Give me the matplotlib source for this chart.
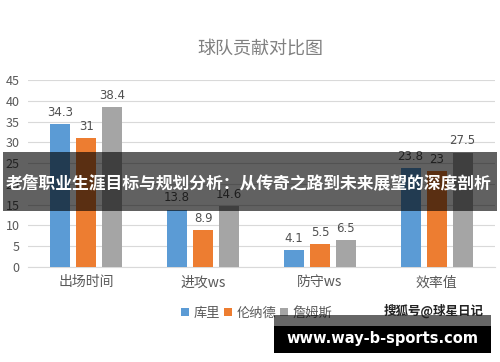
import matplotlib.pyplot as plt
import numpy as np
from matplotlib.patches import Rectangle

plt.rcParams['font.family'] = ['Noto Sans CJK SC', 'DejaVu Sans']

categories = ['出场时间', '进攻ws', '防守ws', '效率值']
players = ['库里', '伦纳德', '詹姆斯']
curry = [34.3, 13.8, 4.1, 23.8]
leonard = [31, 8.9, 5.5, 23]
james = [38.4, 14.6, 6.5, 27.5]
colors = ['#5B9BD5', '#ED7D31', '#A5A5A5']

fig = plt.figure(figsize=(5, 3.62), dpi=100)
ax = fig.add_axes([0.056, 0.2624, 0.934, 0.5166])

x = np.arange(len(categories))
step = 0.223
width = 0.171
for i, (vals, name) in enumerate(zip([curry, leonard, james], players)):
    pos = x + (i - 1) * step
    bars = ax.bar(pos, vals, width, color=colors[i], label=name, zorder=3)
    for b, v in zip(bars, vals):
        ax.text(b.get_x() + b.get_width() / 2, v + 1.3, f'{v:g}', ha='center', va='bottom',
                fontsize=8.5, color='#505050', family=['DejaVu Sans'])

ax.set_xlim(-0.5, 3.5)
ax.set_ylim(0, 45)
ax.set_yticks(range(0, 50, 5))
ax.set_xticks(x)
ax.set_xticklabels(categories, fontsize=10, color='#595959')
ax.tick_params(axis='y', length=0, pad=6, labelsize=9, labelcolor='#595959')
ax.tick_params(axis='x', length=0, pad=6)
ax.grid(axis='y', color='#D9D9D9', linewidth=0.8, zorder=0)
for s in ['top', 'right', 'left']:
    ax.spines[s].set_visible(False)
ax.spines['bottom'].set_color('#D9D9D9')

fig.text(0.52, 0.866, '球队贡献对比图', ha='center', va='center', fontsize=13, color='#808080')

ax.legend(loc='upper center', bbox_to_anchor=(0.49, -0.15), ncol=3, frameon=False,
          fontsize=9.5, handlelength=0.6, handleheight=0.6, handletextpad=0.35,
          columnspacing=0.3, labelcolor='#595959')

# overlay banner
fig.patches.append(Rectangle((0.006, 0.417), 0.988, 0.163, transform=fig.transFigure,
                             facecolor='black', alpha=0.62, zorder=10))
fig.text(0.497, 0.49, '老詹职业生涯目标与规划分析：从传奇之路到未来展望的深度剖析',
         ha='center', va='center', fontsize=12.1, fontweight='bold', color='white', zorder=11)

# watermark
fig.text(0.867, 0.14, '搜狐号@球星日记', ha='center', va='center', fontsize=9,
         fontweight='bold', color='#222222', zorder=11)
fig.patches.append(Rectangle((0.548, 0.097), 0.434, 0.033, transform=fig.transFigure,
                             facecolor='black', alpha=0.6, zorder=10))
fig.patches.append(Rectangle((0.548, 0.025), 0.434, 0.075, transform=fig.transFigure,
                             facecolor='black', zorder=10))
fig.text(0.765, 0.066, 'www.way-b-sports.com', ha='center', va='center', fontsize=10.5,
         fontweight='bold', color='white', family=['DejaVu Sans'], zorder=11)

fig.savefig('out.png', dpi=100)
